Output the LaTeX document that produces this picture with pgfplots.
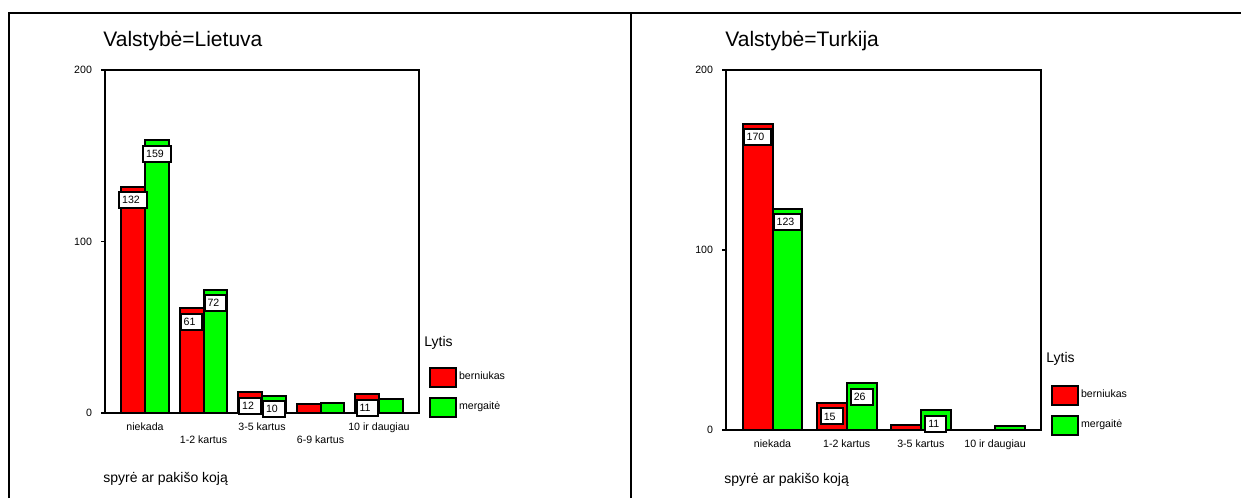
\documentclass[border=0pt]{standalone}
\usepackage{fontspec}
\setmainfont{Liberation Sans}
\usepackage{pgfplots}
\pgfplotsset{compat=1.18}
\definecolor{bred}{RGB}{255,0,0}
\definecolor{bgreen}{RGB}{0,255,0}
\pgfplotsset{
  /pgf/number format/assume math mode=true,
  spss/.style={
    scale only axis,
    axis line style={line width=1pt},
    ymin=0, ymax=200, ytick={0,100,200}, ytick pos=left,
    tick align=outside, major tick length=2pt,
    ytick style={line width=0.8pt, black},
    xtick style={draw=none},
    tick label style={font=\fontsize{5.3}{6}\selectfont},
    yticklabel style={xshift=-1pt},
    xticklabel style={text height=4pt, text depth=1pt, inner sep=0pt, yshift=-2.5pt},
    clip=false,
    legend style={anchor=north west, draw=none, fill=none, inner sep=0pt, outer sep=0pt,
      row sep=4.5pt, font=\fontsize{5.3}{6}\selectfont,
      nodes={inner sep=1pt}},
    legend cell align=left,
    legend image code/.code={\draw[#1, line width=1pt] (0pt,-4.75pt) rectangle (13pt,4.75pt);},
  },
  barR/.style={ybar, bar width=#1, fill=bred, draw=black, line width=1pt},
  barG/.style={ybar, bar width=#1, fill=bgreen, draw=black, line width=1pt},
  lab/.style={draw=none, mark=none, forget plot,
    nodes near coords={\pgfmathprintnumber{\pgfplotspointmeta}\hspace*{2pt}},
    every node near coord/.append style={anchor=north, yshift=-2.25pt, fill=white,
      draw=black, line width=1pt, inner xsep=1.5pt, inner ysep=0pt,
      minimum height=8pt, text height=4pt, text depth=0.5pt,
      font=\fontsize{5.3}{6}\selectfont}},
}
\begin{document}
\begin{tikzpicture}
\useasboundingbox (0pt,0pt) rectangle (620.5pt,249pt);
\draw[line width=1pt] (4.25pt,0pt) -- (4.25pt,242.5pt) -- (620.5pt,242.5pt);
\draw[line width=1pt] (315.5pt,0pt) -- (315.5pt,242.5pt);
\node[anchor=west, inner sep=0pt, font=\fontsize{10.5}{12}\selectfont] at (51.5pt,228.5pt) {Valstybė=Lietuva};
\node[anchor=west, inner sep=0pt, font=\fontsize{10.5}{12}\selectfont] at (362.5pt,228.5pt) {Valstybė=Turkija};
\node[anchor=west, inner sep=0pt, font=\fontsize{7}{8}\selectfont] at (51.5pt,9.5pt) {spyrė ar pakišo koją};
\node[anchor=west, inner sep=0pt, font=\fontsize{7}{8}\selectfont] at (362pt,9pt) {spyrė ar pakišo koją};
\node[anchor=west, inner sep=0pt, font=\fontsize{7}{8}\selectfont] at (212pt,77.5pt) {Lytis};
\node[anchor=west, inner sep=0pt, font=\fontsize{7}{8}\selectfont] at (523pt,69.5pt) {Lytis};

% Lietuva
\begin{axis}[spss, at={(52.5pt,42.5pt)}, anchor=south west, width=157pt, height=171.5pt,
  xmin=-0.684, xmax=4.684,
  xtick={0,2,4}, xticklabels={niekada,3-5 kartus,10 ir daugiau},
  extra x ticks={1,3}, extra x tick labels={1-2 kartus,6-9 kartus},
  extra x tick style={major tick length=0pt, xticklabel style={yshift=-8.5pt}},
  legend style={at={(1.032,0.134)}}]
\addplot[barR=0.41, bar shift=-0.205] coordinates {(0,132) (1,61) (2,12) (3,5) (4,11)};
\addplot[barG=0.41, bar shift=0.205] coordinates {(0,159) (1,72) (2,10) (3,6) (4,8)};
\addplot[lab] coordinates {(-0.205,132) (0.795,61) (1.795,12) (3.795,11)};
\addplot[lab] coordinates {(0.205,159) (1.205,72) (2.205,10)};
\legend{berniukas,mergaitė}
\end{axis}

% Turkija
\begin{axis}[spss, at={(363pt,34pt)}, anchor=south west, width=157.5pt, height=180pt,
  xmin=-0.627, xmax=3.62,
  xtick={0,1,2,3}, xticklabels={niekada,1-2 kartus,3-5 kartus,10 ir daugiau},
  legend style={at={(1.032,0.125)}}]
\addplot[barR=0.404, bar shift=-0.202] coordinates {(0,170) (1,15) (2,3) (3,0)};
\addplot[barG=0.404, bar shift=0.202] coordinates {(0,123) (1,26) (2,11) (3,2)};
\addplot[lab] coordinates {(-0.202,170) (0.798,15)};
\addplot[lab] coordinates {(0.202,123) (1.202,26) (2.202,11)};
\legend{berniukas,mergaitė}
\end{axis}
\end{tikzpicture}
\end{document}
